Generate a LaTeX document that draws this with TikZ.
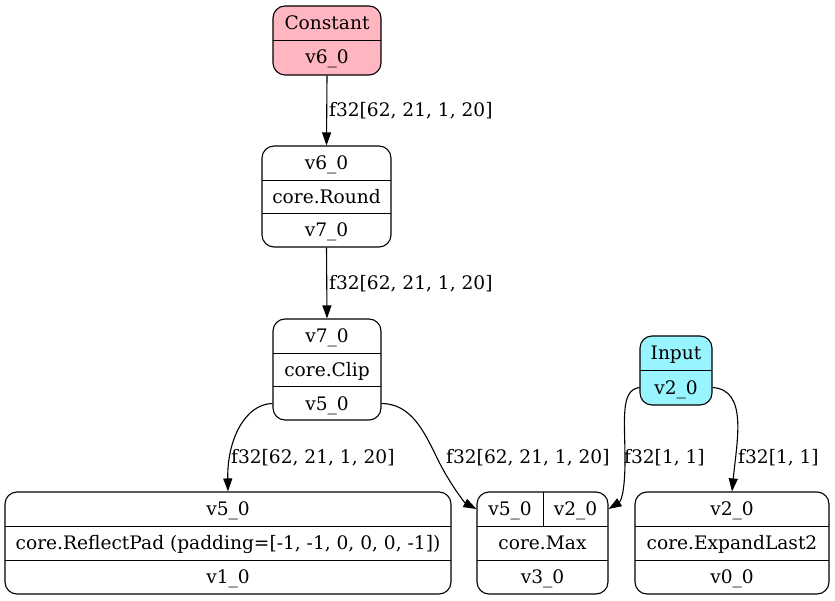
\documentclass[tikz,border=0pt]{standalone}
\usepackage{fontspec}
\setmainfont{DejaVu Serif}
\usepackage{xcolor}
\definecolor{constpink}{RGB}{255,182,193}
\definecolor{inputcyan}{RGB}{152,245,255}
\usetikzlibrary{arrows.meta,positioning}

\begin{document}
\begin{tikzpicture}[x=1pt,y=-1pt,
    rec/.style={draw, rounded corners=12pt, inner sep=0pt, line width=1.1pt},
    lbl/.style={inner sep=0pt, font=\fontsize{18.6}{22}\selectfont, text height=15pt, text depth=2pt},
    edge/.style={-{Triangle[length=13pt,width=9pt]}, line width=1.1pt}]
            % Canvas
            \useasboundingbox (0,0) rectangle (835,601);
            % Parameters
            \def\rowh{34}
            \def\boty{492}
            % Constant
            \node[rec, fill=constpink, minimum width=108pt, minimum height=69pt] (const) at (327,40.5) {};
            \draw (273,40) -- (381,40);
            \node[lbl] (constA) at (327,23) {Constant};
            \node[lbl] (constB) at (327,57.5) {v6\_0};
            % Round
            \node[rec, minimum width=129pt, minimum height=101pt] (round) at (326.5,196.5) {};
            \draw (262,180) -- (391,180);
            \draw (262,213.5) -- (391,213.5);
            \node[lbl] (roundA) at (326.5,163) {v6\_0};
            \node[lbl] (roundB) at (326.5,197) {core.Round};
            \node[lbl] (roundC) at (326.5,230.5) {v7\_0};
            % Clip
            \node[rec, minimum width=108pt, minimum height=101pt] (clip) at (327,369.5) {};
            \draw (273,353) -- (381,353);
            \draw (273,386.5) -- (381,386.5);
            \node[lbl] (clipA) at (327,336) {v7\_0};
            \node[lbl] (clipB) at (327,370) {core.Clip};
            \node[lbl] (clipC) at (327,403.5) {v5\_0};
            % Input
            \node[rec, fill=inputcyan, minimum width=72pt, minimum height=69pt] (input) at (676,370.5) {};
            \draw (640,370) -- (712,370);
            \node[lbl] (inputA) at (676,353) {Input};
            \node[lbl] (inputB) at (676,387.5) {v2\_0};
            % ReflectPad
            \node[rec, minimum width=446pt, minimum height=102pt] (pad) at (228,543) {};
            \draw (5,\boty+\rowh) -- (451,\boty+\rowh);
            \draw (5,\boty+2*\rowh) -- (451,\boty+2*\rowh);
            \node[lbl] (padA) at (228,509) {v5\_0};
            \node[lbl] (padB) at (228,543) {core.ReflectPad (padding=[-1, -1, 0, 0, 0, -1])};
            \node[lbl] (padC) at (228,577) {v1\_0};
            % Max
            \node[rec, minimum width=131pt, minimum height=102pt] (max) at (542.5,543) {};
            \draw (477,\boty+\rowh) -- (608,\boty+\rowh);
            \draw (477,\boty+2*\rowh) -- (608,\boty+2*\rowh);
            \draw (543,\boty) -- (543,\boty+\rowh);
            \node[lbl] (maxA) at (510,509) {v5\_0};
            \node[lbl] (maxB) at (575.5,509) {v2\_0};
            \node[lbl] (maxC) at (542.5,543) {core.Max};
            \node[lbl] (maxD) at (542.5,577) {v3\_0};
            % ExpandLast2
            \node[rec, minimum width=194pt, minimum height=102pt] (expand) at (732,543) {};
            \draw (635,\boty+\rowh) -- (829,\boty+\rowh);
            \draw (635,\boty+2*\rowh) -- (829,\boty+2*\rowh);
            \node[lbl] (expandA) at (732,509) {v2\_0};
            \node[lbl] (expandB) at (732,543) {core.ExpandLast2};
            \node[lbl] (expandC) at (732,577) {v0\_0};
            % Edges
            \draw[edge] (const.south) -- (round.north);
            \draw[edge] (round.south) -- (clip.north);
            \draw[edge] (clip.west |- clipC) .. controls (245,404) and (227,440) .. (pad.north);
            \draw[edge] (clip.east |- clipC) .. controls (420,404) and (430,450) .. (448,478)
                .. controls (457,493) and (465,503) .. (max.west |- maxA);
            \draw[edge] (input.west |- inputB) .. controls (620,390) and (625,420) .. (625,460)
                .. controls (625,495) and (620,502) .. (max.east |- maxB);
            \draw[edge] (input.east |- inputB) .. controls (748,390) and (737,440) .. (expand.north);
            % Edge labels
            \node[lbl, anchor=west] (l1) at (329,110) {f32[62, 21, 1, 20]};
            \node[lbl, anchor=west] (l2) at (329,283) {f32[62, 21, 1, 20]};
            \node[lbl, anchor=west] (l3) at (231,457) {f32[62, 21, 1, 20]};
            \node[lbl, anchor=west] (l4) at (446,457) {f32[62, 21, 1, 20]};
            \node[lbl, anchor=west] (l5) at (624,457) {f32[1, 1]};
            \node[lbl, anchor=west] (l6) at (738,457) {f32[1, 1]};
        \end{tikzpicture}
\end{document}
